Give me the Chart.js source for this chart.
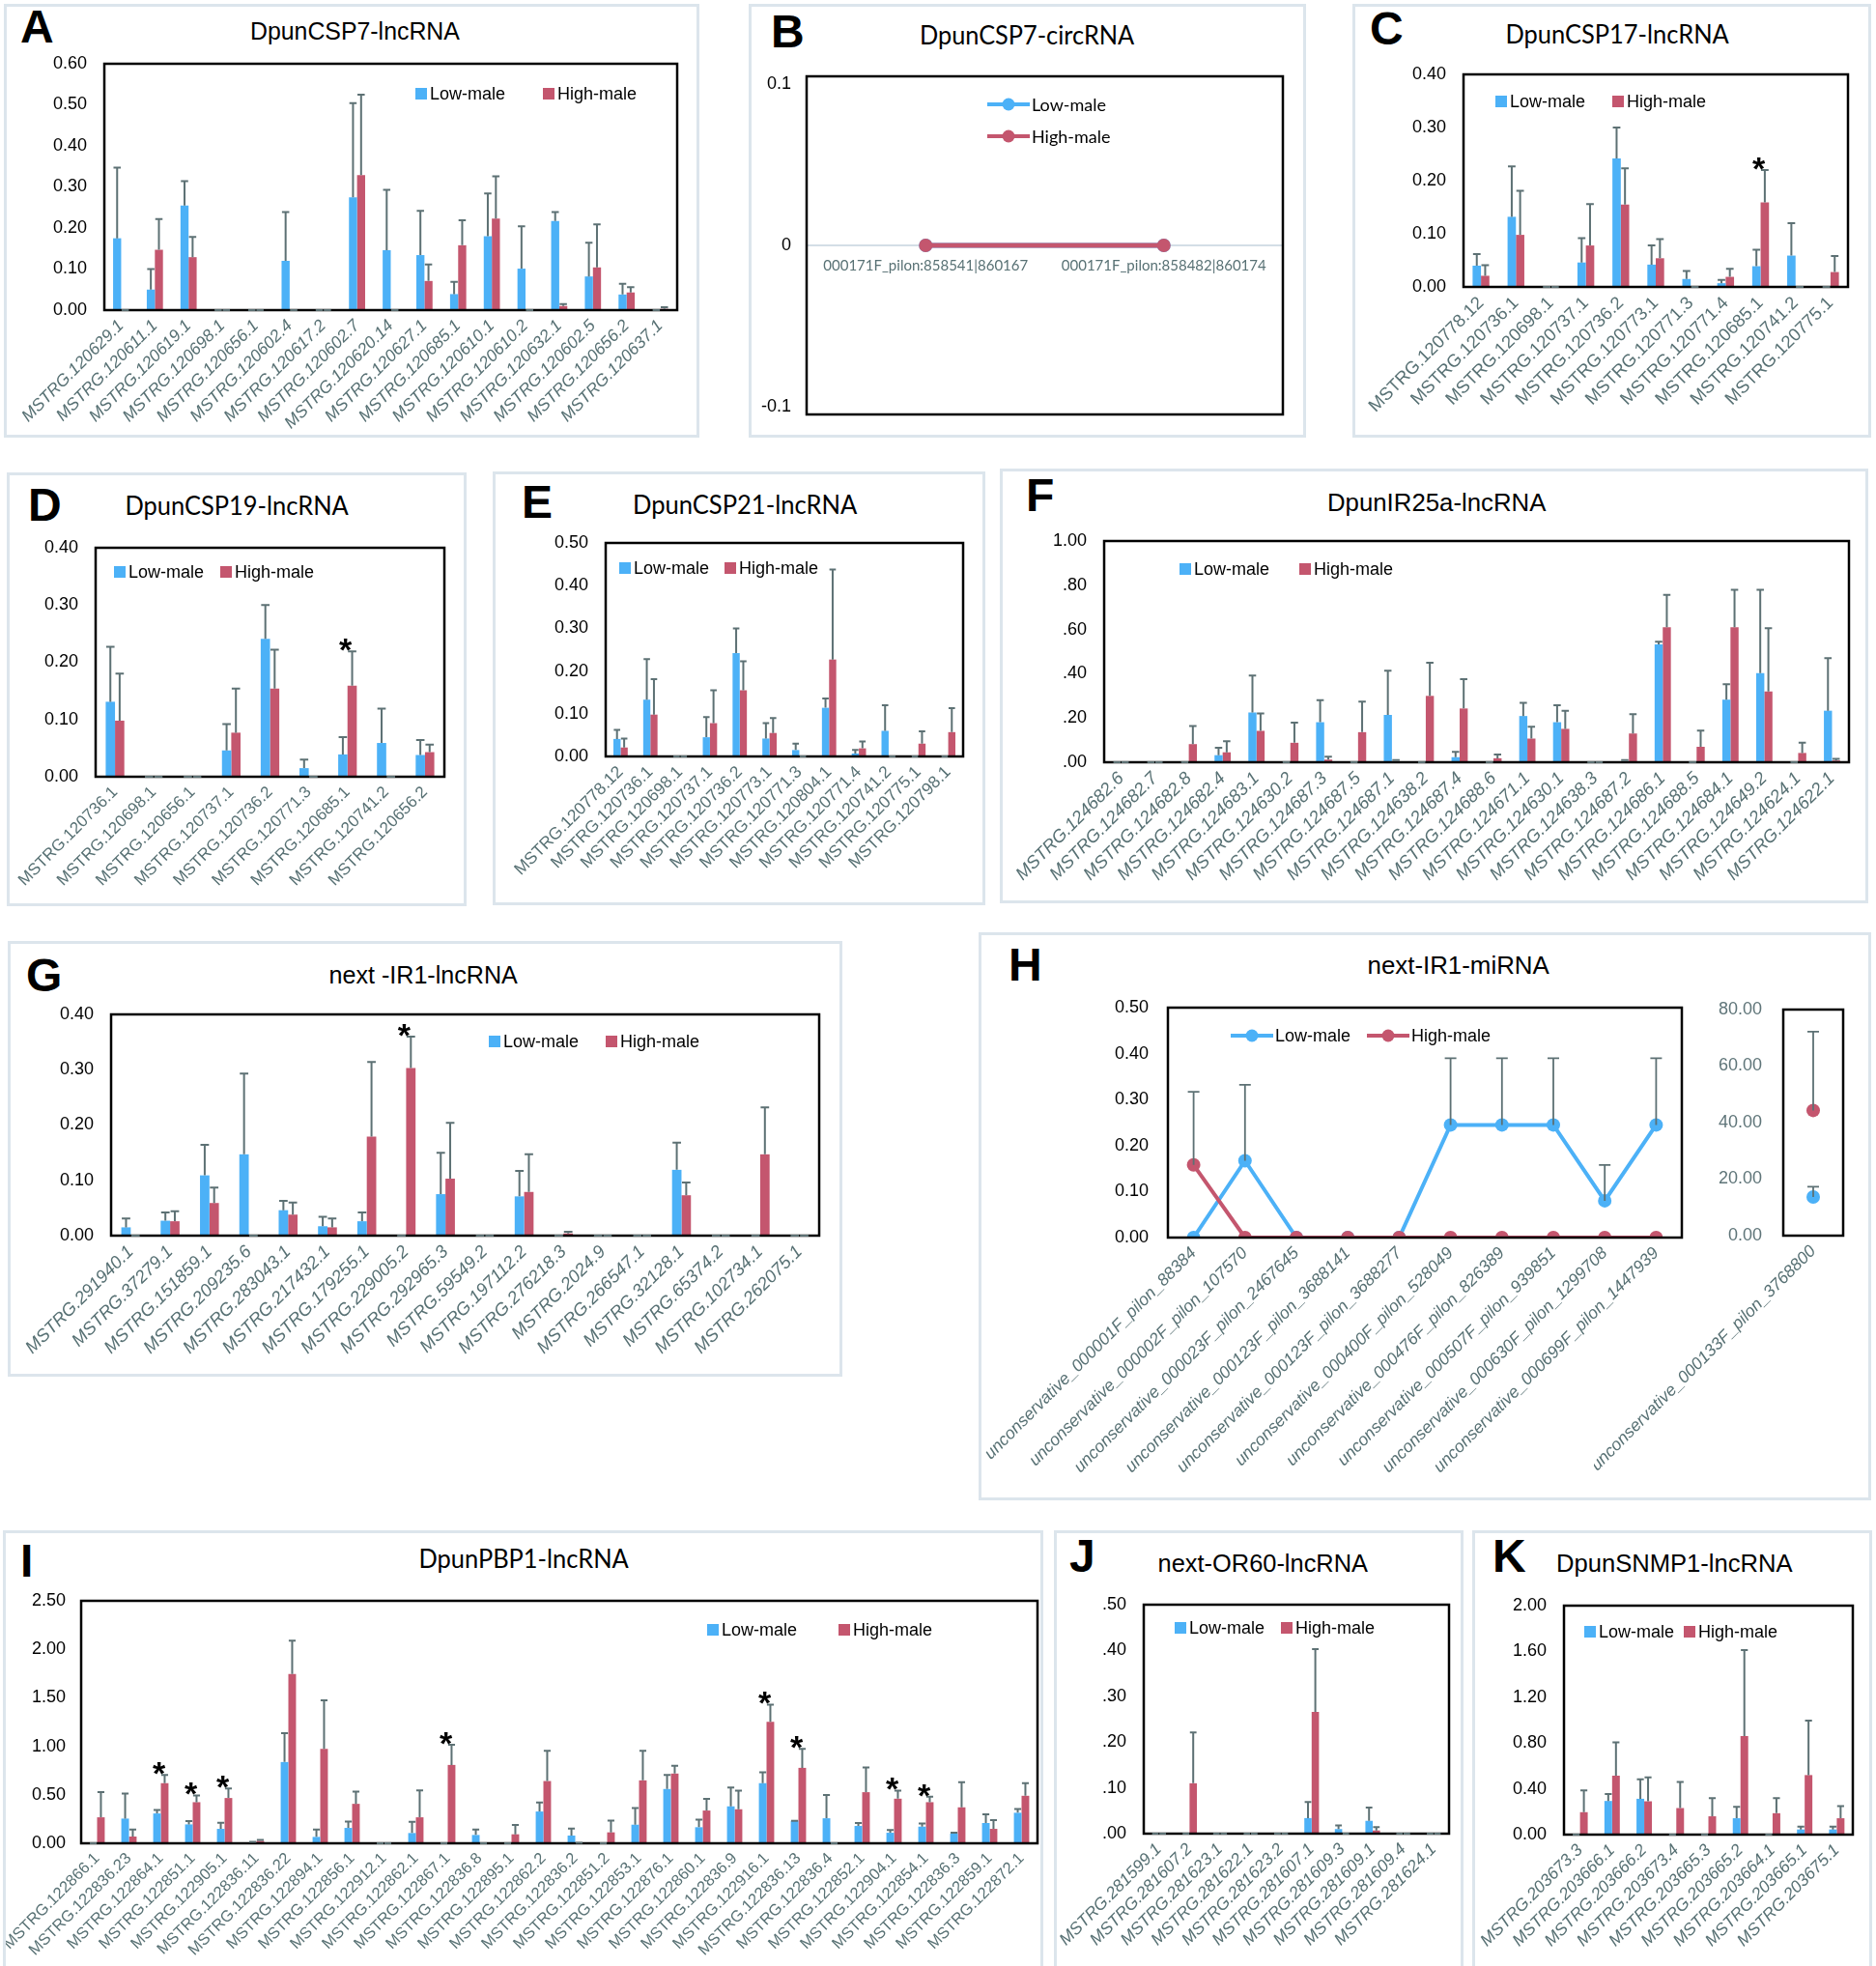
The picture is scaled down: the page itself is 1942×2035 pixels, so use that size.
<!DOCTYPE html>
<html>
<head>
<meta charset="utf-8">
<script src="https://cdn.jsdelivr.net/npm/chart.js@4.4.1/dist/chart.umd.min.js"></script>
<style>
  body { margin:0; width:1942px; height:2035px; background:#fff; position:relative; overflow:hidden; }
  .panel { position:absolute; border:3px solid #dce5ec; box-sizing:border-box; }
  .letter { position:absolute; font-family:'Liberation Sans', Arial, sans-serif; font-weight:bold; font-size:48px; line-height:1; color:#000; }
  .title { position:absolute; white-space:nowrap; font-size:26px; line-height:26px; color:#000; }
  canvas { position:absolute; }
</style>
</head>
<body>
<script>
// ---------- data ----------
const aCats = ['MSTRG.120629.1','MSTRG.120611.1','MSTRG.120619.1','MSTRG.120698.1','MSTRG.120656.1','MSTRG.120602.4','MSTRG.120617.2','MSTRG.120602.7','MSTRG.120620.14','MSTRG.120627.1','MSTRG.120685.1','MSTRG.120610.1','MSTRG.120610.2','MSTRG.120632.1','MSTRG.120602.5','MSTRG.120656.2','MSTRG.120637.1'];
const aLow    = [0.175, 0.05, 0.255, 0, 0, 0.12, 0, 0.275, 0.146, 0.134, 0.039, 0.18, 0.101, 0.217, 0.082, 0.038, 0];
const aLowSd  = [0.172, 0.05, 0.059, 0, 0, 0.119, 0, 0.229, 0.147, 0.108, 0.03, 0.104, 0.103, 0.022, 0.082, 0.026, 0];
const aHigh   = [0, 0.147, 0.129, 0, 0, 0, 0, 0.329, 0, 0.071, 0.158, 0.223, 0, 0.01, 0.104, 0.043, 0.003];
const aHighSd = [0, 0.075, 0.049, 0, 0, 0, 0, 0.196, 0, 0.04, 0.061, 0.103, 0, 0.005, 0.105, 0.013, 0.004];
const aTicks  = ['0.00','0.10','0.20','0.30','0.40','0.50','0.60'];

const bCats  = ['000171F_pilon:858541|860167','000171F_pilon:858482|860174'];
const bLow   = [0, 0];
const bHigh  = [0, 0];
const bTicks = ['-0.1','0','0.1'];

const cCats = ['MSTRG.120778.12','MSTRG.120736.1','MSTRG.120698.1','MSTRG.120737.1','MSTRG.120736.2','MSTRG.120773.1','MSTRG.120771.3','MSTRG.120771.4','MSTRG.120685.1','MSTRG.120741.2','MSTRG.120775.1'];
const cLow    = [0.04, 0.132, 0, 0.046, 0.242, 0.042, 0.015, 0.007, 0.039, 0.059, 0];
const cLowSd  = [0.022, 0.095, 0, 0.046, 0.058, 0.036, 0.015, 0.006, 0.031, 0.061, 0];
const cHigh   = [0.021, 0.098, 0, 0.078, 0.155, 0.054, 0, 0.019, 0.159, 0, 0.028];
const cHighSd = [0.02, 0.083, 0, 0.078, 0.068, 0.036, 0, 0.015, 0.061, 0, 0.03];
const cStars  = [8];
const cTicks  = ['0.00','0.10','0.20','0.30','0.40'];

const dCats = ['MSTRG.120736.1','MSTRG.120698.1','MSTRG.120656.1','MSTRG.120737.1','MSTRG.120736.2','MSTRG.120771.3','MSTRG.120685.1','MSTRG.120741.2','MSTRG.120656.2'];
const dLow    = [0.131, 0, 0, 0.046, 0.241, 0.015, 0.039, 0.059, 0.038];
const dLowSd  = [0.096, 0, 0, 0.046, 0.059, 0.015, 0.03, 0.06, 0.026];
const dHigh   = [0.098, 0, 0, 0.077, 0.154, 0, 0.159, 0, 0.043];
const dHighSd = [0.082, 0, 0, 0.077, 0.068, 0, 0.06, 0, 0.013];
const dStars  = [6];
const dTicks  = ['0.00','0.10','0.20','0.30','0.40'];

const eCats = ['MSTRG.120778.12','MSTRG.120736.1','MSTRG.120698.1','MSTRG.120737.1','MSTRG.120736.2','MSTRG.120773.1','MSTRG.120771.3','MSTRG.120804.1','MSTRG.120771.4','MSTRG.120741.2','MSTRG.120775.1','MSTRG.120798.1'];
const eLow    = [0.041, 0.133, 0, 0.045, 0.242, 0.042, 0.015, 0.114, 0.007, 0.06, 0, 0];
const eLowSd  = [0.021, 0.095, 0, 0.047, 0.058, 0.036, 0.015, 0.022, 0.008, 0.06, 0, 0];
const eHigh   = [0.021, 0.098, 0, 0.078, 0.155, 0.055, 0, 0.227, 0.019, 0, 0.03, 0.057];
const eHighSd = [0.021, 0.083, 0, 0.077, 0.068, 0.035, 0, 0.211, 0.016, 0, 0.029, 0.056];
const eTicks  = ['0.00','0.10','0.20','0.30','0.40','0.50'];

const fCats = ['MSTRG.124682.6','MSTRG.124682.7','MSTRG.124682.8','MSTRG.124682.4','MSTRG.124683.1','MSTRG.124630.2','MSTRG.124687.3','MSTRG.124687.5','MSTRG.124687.1','MSTRG.124638.2','MSTRG.124687.4','MSTRG.124688.6','MSTRG.124671.1','MSTRG.124630.1','MSTRG.124638.3','MSTRG.124687.2','MSTRG.124686.1','MSTRG.124688.5','MSTRG.124684.1','MSTRG.124649.2','MSTRG.124624.1','MSTRG.124622.1'];
const fLow    = [0, 0, 0, 0.032, 0.225, 0, 0.181, 0, 0.214, 0, 0.023, 0, 0.209, 0.181, 0, 0.005, 0.533, 0, 0.283, 0.403, 0, 0.233];
const fLowSd  = [0, 0, 0, 0.034, 0.167, 0, 0.1, 0, 0.2, 0, 0.024, 0, 0.06, 0.077, 0, 0.005, 0.012, 0, 0.07, 0.376, 0, 0.238];
const fHigh   = [0, 0, 0.082, 0.045, 0.142, 0.088, 0.012, 0.136, 0.005, 0.30, 0.243, 0.018, 0.107, 0.151, 0, 0.13, 0.61, 0.07, 0.61, 0.32, 0.042, 0.008];
const fHighSd = [0, 0, 0.082, 0.05, 0.079, 0.091, 0.013, 0.138, 0.005, 0.15, 0.133, 0.017, 0.053, 0.082, 0, 0.087, 0.147, 0.073, 0.17, 0.286, 0.046, 0.007];
const fTicks  = ['.00','.20','.40','.60','.80','1.00'];

const gCats = ['MSTRG.291940.1','MSTRG.37279.1','MSTRG.151859.1','MSTRG.209235.6','MSTRG.283043.1','MSTRG.217432.1','MSTRG.179255.1','MSTRG.229005.2','MSTRG.292965.3','MSTRG.59549.2','MSTRG.197112.2','MSTRG.276218.3','MSTRG.2024.9','MSTRG.266547.1','MSTRG.32128.1','MSTRG.65374.2','MSTRG.102734.1','MSTRG.262075.1'];
const gLow    = [0.015, 0.027, 0.109, 0.147, 0.046, 0.017, 0.026, 0, 0.075, 0, 0.071, 0, 0, 0, 0.119, 0, 0, 0];
const gLowSd  = [0.016, 0.015, 0.055, 0.146, 0.017, 0.017, 0.016, 0, 0.075, 0, 0.046, 0, 0, 0, 0.049, 0, 0, 0];
const gHigh   = [0, 0.026, 0.059, 0, 0.038, 0.015, 0.179, 0.303, 0.103, 0, 0.079, 0.004, 0, 0, 0.073, 0, 0.147, 0];
const gHighSd = [0, 0.018, 0.028, 0, 0.022, 0.016, 0.135, 0.057, 0.101, 0, 0.068, 0.003, 0, 0, 0.023, 0, 0.085, 0];
const gStars  = [7];
const gTicks  = ['0.00','0.10','0.20','0.30','0.40'];

const hCats = ['unconservative_000001F_pilon_88384','unconservative_000002F_pilon_107570','unconservative_000023F_pilon_2467645','unconservative_000123F_pilon_3688141','unconservative_000123F_pilon_3688277','unconservative_000400F_pilon_528049','unconservative_000476F_pilon_826389','unconservative_000507F_pilon_939851','unconservative_000630F_pilon_1299708','unconservative_000699F_pilon_1447939'];
const hLow    = [0, 0.167, 0, 0, 0, 0.245, 0.245, 0.245, 0.08, 0.245];
const hLowSd  = [0, 0.165, 0, 0, 0, 0.145, 0.145, 0.145, 0.078, 0.145];
const hHigh   = [0.158, 0, 0, 0, 0, 0, 0, 0, 0, 0];
const hHighSd = [0.159, 0, 0, 0, 0, 0, 0, 0, 0, 0];
const hTicks  = ['0.00','0.10','0.20','0.30','0.40','0.50'];
const h2Cats   = ['unconservative_000133F_pilon_3768800'];
const h2Low    = [13.7];
const h2LowSd  = [3.6];
const h2High   = [44.3];
const h2HighSd = [27.9];
const h2Ticks  = ['0.00','20.00','40.00','60.00','80.00'];

const iCats = ['MSTRG.122866.1','MSTRG.122836.23','MSTRG.122864.1','MSTRG.122851.1','MSTRG.122905.1','MSTRG.122836.11','MSTRG.122836.22','MSTRG.122894.1','MSTRG.122856.1','MSTRG.122912.1','MSTRG.122862.1','MSTRG.122867.1','MSTRG.122836.8','MSTRG.122895.1','MSTRG.122862.2','MSTRG.122836.2','MSTRG.122851.2','MSTRG.122853.1','MSTRG.122876.1','MSTRG.122860.1','MSTRG.122836.9','MSTRG.122916.1','MSTRG.122836.13','MSTRG.122836.4','MSTRG.122852.1','MSTRG.122904.1','MSTRG.122854.1','MSTRG.122836.3','MSTRG.122859.1','MSTRG.122872.1'];
const iLow    = [0, 0.255, 0.308, 0.195, 0.149, 0.01, 0.838, 0.066, 0.159, 0, 0.106, 0, 0.086, 0, 0.328, 0.08, 0, 0.192, 0.56, 0.166, 0.381, 0.62, 0.232, 0.258, 0.179, 0.109, 0.172, 0.1, 0.209, 0.315];
const iLowSd  = [0, 0.258, 0.036, 0.033, 0.063, 0.005, 0.298, 0.076, 0.066, 0, 0.116, 0, 0.056, 0, 0.092, 0.072, 0, 0.172, 0.145, 0.079, 0.195, 0.112, 0, 0.239, 0.03, 0.027, 0.033, 0.01, 0.089, 0.039];
const iHigh   = [0.268, 0.07, 0.62, 0.424, 0.467, 0.025, 1.745, 0.974, 0.407, 0, 0.268, 0.808, 0, 0.093, 0.642, 0.005, 0.113, 0.649, 0.719, 0.338, 0.351, 1.252, 0.778, 0, 0.527, 0.46, 0.424, 0.371, 0.149, 0.49];
const iHighSd = [0.259, 0.072, 0.085, 0.07, 0.099, 0.01, 0.345, 0.5, 0.126, 0, 0.278, 0.209, 0, 0.096, 0.312, 0, 0.122, 0.305, 0.081, 0.119, 0.192, 0.178, 0.196, 0, 0.254, 0.083, 0.056, 0.258, 0.089, 0.129];
const iStars  = [2, 3, 4, 11, 21, 22, 25, 26];
const iTicks  = ['0.00','0.50','1.00','1.50','2.00','2.50'];

const jCats = ['MSTRG.281599.1','MSTRG.281607.2','MSTRG.281623.1','MSTRG.281622.1','MSTRG.281623.2','MSTRG.281607.1','MSTRG.281609.3','MSTRG.281609.1','MSTRG.281609.4','MSTRG.281624.1'];
const jLow    = [0, 0, 0, 0, 0, 0.034, 0.01, 0.028, 0, 0];
const jLowSd  = [0, 0, 0, 0, 0, 0.035, 0.008, 0.029, 0, 0];
const jHigh   = [0, 0.11, 0, 0, 0, 0.266, 0, 0.007, 0, 0];
const jHighSd = [0, 0.111, 0, 0, 0, 0.137, 0, 0.007, 0, 0];
const jTicks  = ['.00','.10','.20','.30','.40','.50'];

const kCats = ['MSTRG.203673.3','MSTRG.203666.1','MSTRG.203666.2','MSTRG.203673.4','MSTRG.203665.3','MSTRG.203665.2','MSTRG.203664.1','MSTRG.203665.1','MSTRG.203675.1'];
const kLow    = [0, 0.294, 0.313, 0, 0, 0.143, 0, 0.045, 0.045];
const kLowSd  = [0, 0.061, 0.171, 0, 0, 0.1, 0, 0.025, 0.025];
const kHigh   = [0.196, 0.515, 0.291, 0.232, 0.16, 0.861, 0.187, 0.52, 0.143];
const kHighSd = [0.19, 0.291, 0.209, 0.228, 0.159, 0.75, 0.132, 0.476, 0.106];
const kTicks  = ['0.00','0.40','0.80','1.20','1.60','2.00'];

// ---------- look ----------
const SANS = "'Liberation Sans', Arial, sans-serif";
const CAL = "Lato, 'Liberation Sans', sans-serif";
const BLUE = '#4cb1f7', RED = '#c4566e', ERR = '#5d7174', XLAB = '#587174';

const panels = [
  { box: [4, 4, 720, 449],      L: 'A', lp: [21, 10],     T: 'DpunCSP7-lncRNA',  tp: [367, 32, 217],   narrow: true },
  { box: [775, 4, 577, 449],    L: 'B', lp: [798, 15],    T: 'DpunCSP7-circRNA', tp: [1063, 36, 222] },
  { box: [1400, 4, 537, 449],   L: 'C', lp: [1418, 12],   T: 'DpunCSP17-lncRNA', tp: [1674, 35, 231] },
  { box: [7, 489, 476, 449],    L: 'D', lp: [29, 505],    T: 'DpunCSP19-lncRNA', tp: [245, 523, 231] },
  { box: [510, 488, 510, 449],  L: 'E', lp: [540, 502],   T: 'DpunCSP21-lncRNA', tp: [771, 522, 232] },
  { box: [1035, 485, 899, 450], L: 'F', lp: [1062, 495],  T: 'DpunIR25a-lncRNA', tp: [1487, 520, 226], narrow: true },
  { box: [8, 974, 864, 451],    L: 'G', lp: [27, 992],    T: 'next -IR1-lncRNA', tp: [438, 1009, 195], narrow: true },
  { box: [1013, 965, 924, 588], L: 'H', lp: [1044, 981],  T: 'next-IR1-miRNA',   tp: [1509, 999, 188], narrow: true },
  { box: [3, 1584, 1077, 460],  L: 'I', lp: [21, 1598],   T: 'DpunPBP1-lncRNA',  tp: [542, 1613, 217] },
  { box: [1091, 1584, 424, 460],L: 'J', lp: [1107, 1593], T: 'next-OR60-lncRNA', tp: [1307, 1618, 218], narrow: true },
  { box: [1524, 1584, 414, 460],L: 'K', lp: [1545, 1593], T: 'DpunSNMP1-lncRNA', tp: [1733, 1618, 245], narrow: true }
];

panels.forEach(p => {
  const [x, y, w, h] = p.box;
  const d = document.createElement('div');
  d.className = 'panel';
  Object.assign(d.style, { left: x + 'px', top: y + 'px', width: w + 'px', height: h + 'px' });
  document.body.appendChild(d);

  const L = document.createElement('div');
  L.className = 'letter';
  L.textContent = p.L;
  L.style.left = p.lp[0] + 'px';
  L.style.top = (p.lp[1] - 6) + 'px';
  document.body.appendChild(L);

  const t = document.createElement('div');
  t.className = 'title';
  t.textContent = p.T;
  t.style.fontFamily = p.narrow ? SANS : CAL;
  document.body.appendChild(t);
  const tw = t.offsetWidth;
  t.style.left = (p.tp[0] - tw / 2) + 'px';
  t.style.top = (p.tp[1] - 13) + 'px';
  t.style.transform = `scaleX(${p.tp[2] / tw})`;
});

// ---------- plugins ----------
const frame = {
  id: 'frame',
  afterDatasetsDraw(chart) {
    const a = chart.chartArea, ctx = chart.ctx;
    ctx.save();
    ctx.strokeStyle = '#000';
    ctx.lineWidth = 2.5;
    ctx.strokeRect(a.left, a.top, a.right - a.left, a.bottom - a.top);
    ctx.restore();
  }
};

const errBars = {
  id: 'errBars',
  afterDatasetsDraw(chart, args, o) {
    const ctx = chart.ctx, ys = chart.scales.y;
    ctx.save();
    ctx.strokeStyle = ERR;
    ctx.lineWidth = o.lw || 2;
    chart.data.datasets.forEach((ds, i) => {
      if (!ds.sd) return;
      chart.getDatasetMeta(i).data.forEach((el, j) => {
        const sd = ds.sd[j];
        if (o.skipZero && !sd) return;
        const top = ys.getPixelForValue(ds.data[j] + sd);
        const half = o.cap || el.width * 0.45;
        ctx.beginPath();
        ctx.moveTo(el.x, el.y);
        ctx.lineTo(el.x, top);
        ctx.moveTo(el.x - half, top);
        ctx.lineTo(el.x + half, top);
        ctx.stroke();
      });
    });
    ctx.restore();
  }
};

const stars = {
  id: 'stars',
  afterDatasetsDraw(chart) {
    const idx = chart.data.stars || [];
    const ctx = chart.ctx, xs = chart.scales.x, ys = chart.scales.y;
    ctx.save();
    ctx.fillStyle = '#000';
    ctx.font = `bold 34px ${SANS}`;
    ctx.textAlign = 'center';
    idx.forEach(j => {
      let v = 0;
      chart.data.datasets.forEach(ds => { v = Math.max(v, ds.data[j] + ds.sd[j]); });
      ctx.fillText('*', xs.getPixelForValue(j) - 2, ys.getPixelForValue(v) + 10);
    });
    ctx.restore();
  }
};

// legend drawn inside the plot, at the spots stored on each dataset
const keyBox = {
  id: 'keyBox',
  afterDraw(chart, args, o) {
    const ctx = chart.ctx;
    ctx.save();
    ctx.font = o.font || `18px ${SANS}`;
    ctx.textBaseline = 'middle';
    chart.data.datasets.forEach(ds => {
      if (!ds.keyAt) return;
      const [x, y] = ds.keyAt;
      if (o.line) {
        ctx.strokeStyle = ds.borderColor;
        ctx.lineWidth = 4;
        ctx.beginPath(); ctx.moveTo(x, y); ctx.lineTo(x + 44, y); ctx.stroke();
        ctx.fillStyle = ds.borderColor;
        ctx.beginPath(); ctx.arc(x + 22, y, 6.5, 0, Math.PI * 2); ctx.fill();
        ctx.fillStyle = '#000';
        ctx.fillText(ds.label, x + 46, y + 1);
      } else {
        ctx.fillStyle = ds.backgroundColor;
        ctx.fillRect(x, y - 6, 12, 12);
        ctx.fillStyle = '#000';
        ctx.fillText(ds.label, x + 15, y + 1);
      }
    });
    ctx.restore();
  }
};

// ---------- helpers ----------
function inner(box) {
  const [x, y, w, h] = box;
  const bottom = Math.min(y + h, 2035);
  return { x: x + 3, y: y + 3, w: w - 6, h: bottom - y - 6 };
}
function canvasFor(r) {
  const c = document.createElement('canvas');
  c.width = r.w; c.height = r.h;
  c.style.left = r.x + 'px'; c.style.top = r.y + 'px';
  document.body.appendChild(c);
  return c;
}
function yScale(ticks, axisW, color, pad, lo, hi) {
  return {
    min: lo !== undefined ? lo : +ticks[0],
    max: hi !== undefined ? hi : +ticks[ticks.length - 1],
    grid: { display: false, drawTicks: false },
    border: { display: false },
    ticks: { autoSkip: false, color: color, font: { family: SANS, size: 18 }, padding: pad, callback: (v, i) => ticks[i] },
    afterBuildTicks: s => { s.ticks = ticks.map(t => ({ value: +t })); },
    afterFit: s => { s.width = axisW; s.paddingTop = 0; s.paddingBottom = 0; }
  };
}
function xScale(font, xH) {
  return {
    offset: true,
    grid: { display: false, drawTicks: false },
    border: { display: false },
    ticks: { autoSkip: false, maxRotation: 45, minRotation: 45, color: XLAB, font: font, padding: 6 },
    afterFit: s => { s.height = xH; s.paddingLeft = 0; s.paddingRight = 0; }
  };
}

function barChart(box, plot, cats, low, lowSd, high, highSd, ticks, o) {
  const r = inner(box);
  const axisW = Math.min(80, plot.l - r.x);
  const xH = r.y + r.h - plot.b;
  const cp = o.cp || 0.48;
  new Chart(canvasFor(r), {
    type: 'bar',
    data: {
      labels: cats,
      stars: o.stars || [],
      datasets: [
        { label: 'Low-male', data: low, sd: lowSd, backgroundColor: BLUE, categoryPercentage: cp, barPercentage: 1,
          keyAt: [o.leg[0] - r.x, o.leg[2] - r.y] },
        { label: 'High-male', data: high, sd: highSd, backgroundColor: RED, categoryPercentage: cp, barPercentage: 1,
          keyAt: [o.leg[1] - r.x, o.leg[2] - r.y] }
      ]
    },
    options: {
      responsive: false, animation: false, devicePixelRatio: 1,
      layout: { padding: { left: plot.l - axisW - r.x, top: plot.t - r.y, right: r.x + r.w - plot.r, bottom: 0 } },
      scales: {
        x: xScale({ family: SANS, size: o.xSize, style: o.italic ? 'italic' : 'normal' }, xH),
        y: yScale(ticks, axisW, '#000', o.yPad || 18)
      },
      plugins: { legend: { display: false }, tooltip: { enabled: false }, errBars: {}, keyBox: { font: `18px ${SANS}` } }
    },
    plugins: [frame, errBars, stars, keyBox]
  });
}

// ---------- bar panels ----------
barChart(panels[0].box, { l: 108, t: 66, r: 701, b: 321 }, aCats, aLow, aLowSd, aHigh, aHighSd, aTicks,
  { xSize: 17.5, italic: true, leg: [430, 562, 97] });
barChart(panels[2].box, { l: 1515, t: 77, r: 1913, b: 297 }, cCats, cLow, cLowSd, cHigh, cHighSd, cTicks,
  { xSize: 18.5, stars: cStars, leg: [1548, 1669, 105] });
barChart(panels[3].box, { l: 99, t: 567, r: 460, b: 804 }, dCats, dLow, dLowSd, dHigh, dHighSd, dTicks,
  { xSize: 17, stars: dStars, leg: [118, 228, 592] });
barChart(panels[4].box, { l: 627, t: 562, r: 997, b: 783 }, eCats, eLow, eLowSd, eHigh, eHighSd, eTicks,
  { xSize: 17.5, leg: [641, 750, 588] });
barChart(panels[5].box, { l: 1143, t: 560, r: 1914, b: 789 }, fCats, fLow, fLowSd, fHigh, fHighSd, fTicks,
  { xSize: 18.5, italic: true, leg: [1221, 1345, 589] });
barChart(panels[6].box, { l: 115, t: 1050, r: 848, b: 1279 }, gCats, gLow, gLowSd, gHigh, gHighSd, gTicks,
  { xSize: 18.5, italic: true, stars: gStars, leg: [506, 627, 1078] });
barChart(panels[8].box, { l: 84, t: 1657, r: 1074, b: 1908 }, iCats, iLow, iLowSd, iHigh, iHighSd, iTicks,
  { xSize: 16.5, stars: iStars, yPad: 16, leg: [732, 868, 1687] });
barChart(panels[9].box, { l: 1184, t: 1661, r: 1500, b: 1898 }, jCats, jLow, jLowSd, jHigh, jHighSd, jTicks,
  { xSize: 17.5, italic: true, leg: [1216, 1326, 1685] });
barChart(panels[10].box, { l: 1619, t: 1662, r: 1918, b: 1899 }, kCats, kLow, kLowSd, kHigh, kHighSd, kTicks,
  { xSize: 17.5, italic: true, leg: [1640, 1743, 1689] });

// ---------- B: circRNA line ----------
(function () {
  const r = inner(panels[1].box);
  const plot = { l: 835, t: 79, r: 1328, b: 429 };
  const axisW = 60;
  new Chart(canvasFor(r), {
    type: 'line',
    data: {
      labels: bCats,
      datasets: [
        { label: 'Low-male', data: bLow, borderColor: BLUE, backgroundColor: BLUE, borderWidth: 5, pointRadius: 7,
          pointBorderWidth: 0, order: 1, keyAt: [1022 - r.x, 108 - r.y] },
        { label: 'High-male', data: bHigh, borderColor: RED, backgroundColor: RED, borderWidth: 5, pointRadius: 7,
          pointBorderWidth: 0, order: 0, keyAt: [1022 - r.x, 141 - r.y] }
      ]
    },
    options: {
      responsive: false, animation: false, devicePixelRatio: 1,
      layout: { padding: { left: plot.l - axisW - r.x, top: plot.t - r.y, right: r.x + r.w - plot.r, bottom: r.y + r.h - plot.b } },
      scales: {
        x: {
          position: { y: 0 }, offset: true,
          grid: { display: false, drawTicks: false },
          border: { display: true, color: '#d3dee6', width: 2 },
          ticks: { autoSkip: false, maxRotation: 0, minRotation: 0, color: XLAB, font: { family: CAL, size: 15 }, padding: 12 }
        },
        y: yScale(bTicks, axisW, '#000', 16, -0.105, 0.105)
      },
      plugins: { legend: { display: false }, tooltip: { enabled: false }, keyBox: { line: true, font: `18px ${CAL}` } }
    },
    plugins: [frame, keyBox]
  });
})();

// ---------- H: miRNA lines ----------
(function () {
  const r0 = inner(panels[7].box);
  const r = { x: r0.x, y: r0.y, w: 1785 - r0.x, h: r0.h };
  const plot = { l: 1209, t: 1043, r: 1741, b: 1281 };
  const axisW = 80;
  const lab = { family: SANS, size: 17.5, style: 'italic' };
  new Chart(canvasFor(r), {
    type: 'line',
    data: {
      labels: hCats,
      datasets: [
        { label: 'Low-male', data: hLow, sd: hLowSd, borderColor: BLUE, backgroundColor: BLUE, borderWidth: 4,
          pointRadius: 7, pointBorderWidth: 0, order: 1, keyAt: [1274 - r.x, 1072 - r.y] },
        { label: 'High-male', data: hHigh, sd: hHighSd, borderColor: RED, backgroundColor: RED, borderWidth: 4,
          pointRadius: 7, pointBorderWidth: 0, order: 0, keyAt: [1415 - r.x, 1072 - r.y] }
      ]
    },
    options: {
      responsive: false, animation: false, devicePixelRatio: 1,
      layout: { padding: { left: plot.l - axisW - r.x, top: plot.t - r.y, right: r.x + r.w - plot.r, bottom: 0 } },
      scales: {
        x: xScale(lab, r.y + r.h - plot.b),
        y: yScale(hTicks, axisW, '#000', 20)
      },
      plugins: { legend: { display: false }, tooltip: { enabled: false },
        errBars: { skipZero: true, cap: 6, lw: 1.8 }, keyBox: { line: true, font: `18px ${SANS}` } }
    },
    plugins: [frame, errBars, keyBox]
  });

  const r2 = { x: 1650, y: r0.y, w: r0.x + r0.w - 1650, h: r0.h };
  const plot2 = { l: 1846, t: 1045, r: 1908, b: 1279 };
  new Chart(canvasFor(r2), {
    type: 'line',
    data: {
      labels: h2Cats,
      datasets: [
        { label: 'Low-male', data: h2Low, sd: h2LowSd, showLine: false, borderColor: BLUE, backgroundColor: BLUE,
          pointRadius: 7, pointBorderWidth: 0 },
        { label: 'High-male', data: h2High, sd: h2HighSd, showLine: false, borderColor: RED, backgroundColor: RED,
          pointRadius: 7, pointBorderWidth: 0 }
      ]
    },
    options: {
      responsive: false, animation: false, devicePixelRatio: 1,
      layout: { padding: { left: plot2.l - axisW - r2.x, top: plot2.t - r2.y, right: r2.x + r2.w - plot2.r, bottom: 0 } },
      scales: {
        x: xScale(lab, r2.y + r2.h - plot2.b),
        y: yScale(h2Ticks, axisW, '#5f7579', 22)
      },
      plugins: { legend: { display: false }, tooltip: { enabled: false }, errBars: { skipZero: true, cap: 6, lw: 1.8 } }
    },
    plugins: [frame, errBars]
  });
})();
</script>
</body>
</html>
